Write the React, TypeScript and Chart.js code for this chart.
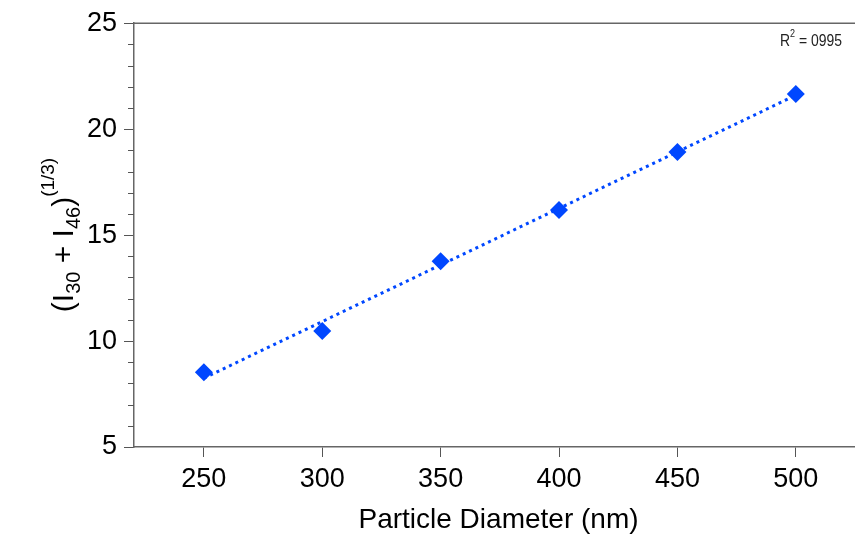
import React, { useEffect, useRef } from 'react';
import { Chart, registerables } from 'chart.js';
Chart.register(...registerables);

const diameters = [250, 300, 350, 400, 450, 500];
const intensityRoot = [8.53, 10.48, 13.77, 16.18, 18.92, 21.66];
const trendX = [250, 500];
const trendY = [8.25, 21.6];
const xTickValues = [250, 300, 350, 400, 450, 500];
const yTickValues = [5, 10, 15, 20, 25];
const yMinorStep = 1;
const rSquaredText = '0995';
const xTitle = 'Particle Diameter (nm)';

const FONT = '"Liberation Sans", Arial, sans-serif';
const BLUE = '#0047ff';
const AXIS = '#666666';
const VIEW_W = 855;

const overlay = {
  id: 'overlay',
  afterDraw(chart: any) {
    const ctx = chart.ctx;
    const { left, right, top } = chart.chartArea;
    const y = chart.scales.y;
    ctx.save();
    // top border
    ctx.strokeStyle = AXIS;
    ctx.lineWidth = 1.5;
    ctx.beginPath();
    ctx.moveTo(left, top);
    ctx.lineTo(right, top);
    ctx.stroke();
    // minor ticks
    ctx.lineWidth = 1;
    ctx.strokeStyle = '#555';
    for (let v = y.min; v <= y.max; v += yMinorStep) {
      if (yTickValues.includes(v)) continue;
      const py = Math.round(y.getPixelForValue(v)) + 0.5;
      ctx.beginPath();
      ctx.moveTo(left - 6, py);
      ctx.lineTo(left, py);
      ctx.stroke();
    }
    // x title
    ctx.fillStyle = '#000';
    ctx.font = `28px ${FONT}`;
    ctx.textAlign = 'center';
    ctx.textBaseline = 'alphabetic';
    ctx.fillText(xTitle, (left + VIEW_W) / 2 + 4, 528);

    // y title rich text
    const parts: [string, number, number][] = [
      ['(I', 30, 0],
      ['30', 20, 7],
      [' + I', 30, 0],
      ['46', 20, 7],
      [')', 30, 0],
      ['(1/3)', 19, -19],
    ];
    ctx.textAlign = 'left';
    let total = 0;
    const widths: number[] = [];
    for (const [t, s] of parts) {
      ctx.font = `${s}px ${FONT}`;
      const w = ctx.measureText(t).width;
      widths.push(w);
      total += w;
    }
    ctx.translate(73, 235);
    ctx.rotate(-Math.PI / 2);
    let x = -total / 2;
    parts.forEach(([t, s, dy], i) => {
      ctx.font = `${s}px ${FONT}`;
      ctx.fillText(t, x, dy);
      x += widths[i];
    });
    ctx.setTransform(1, 0, 0, 1, 0, 0);

    // R^2 label (narrow)
    ctx.fillStyle = '#222';
    ctx.translate(780, 46);
    ctx.scale(0.82, 1);
    ctx.font = `17px ${FONT}`;
    ctx.fillText('R', 0, 0);
    const rw = ctx.measureText('R').width;
    ctx.font = `11px ${FONT}`;
    ctx.fillText('2', rw, -9);
    const sw = ctx.measureText('2').width;
    ctx.font = `17px ${FONT}`;
    ctx.fillText(' = ' + rSquaredText, rw + sw, 0);
    ctx.setTransform(1, 0, 0, 1, 0, 0);
    ctx.restore();
  },
};

export default function App() {
  const ref = useRef<HTMLCanvasElement>(null);
  useEffect(() => {
    document.body.style.margin = '0';
    const chart = new Chart(ref.current!, {
      type: 'scatter',
      data: {
        datasets: [
          {
            type: 'line',
            data: trendX.map((x, i) => ({ x, y: trendY[i] })),
            borderColor: BLUE,
            borderWidth: 3,
            borderDash: [3, 4],
            pointRadius: 0,
            fill: false,
          } as any,
          {
            data: diameters.map((x, i) => ({ x, y: intensityRoot[i] })),
            backgroundColor: BLUE,
            borderColor: BLUE,
            pointStyle: 'rectRot',
            pointRadius: 9,
            pointBorderWidth: 0,
          },
        ],
      },
      options: {
        animation: false,
        responsive: false,
        layout: { padding: { top: 23, right: 0, left: 0, bottom: 0 } },
        plugins: { legend: { display: false }, tooltip: { enabled: false } },
        scales: {
          x: {
            type: 'linear',
            min: 220.5,
            max: 525,
            afterBuildTicks: (s: any) => {
              s.ticks = xTickValues.map((v) => ({ value: v }));
            },
            afterFit: (s: any) => {
              s.height = 88;
            },
            grid: { drawOnChartArea: false, drawTicks: true, tickLength: 10, color: '#555', lineWidth: 1 },
            border: { display: true, color: AXIS, width: 1.5 },
            ticks: { color: '#000', font: { family: FONT, size: 27 }, padding: 6, maxRotation: 0 },
          },
          y: {
            type: 'linear',
            min: 5,
            max: 25,
            afterBuildTicks: (s: any) => {
              s.ticks = yTickValues.map((v) => ({ value: v }));
            },
            afterFit: (s: any) => {
              s.width = 134;
            },
            grid: { drawOnChartArea: false, drawTicks: true, tickLength: 10, color: '#555', lineWidth: 1 },
            border: { display: true, color: AXIS, width: 1.5 },
            ticks: { color: '#000', font: { family: FONT, size: 27 }, padding: 7 },
          },
        },
      },
      plugins: [overlay],
    });
    return () => chart.destroy();
  }, []);
  return (
    <div style={{ position: 'absolute', left: 0, top: 0, width: VIEW_W, height: 535, overflow: 'hidden' }}>
      <canvas ref={ref} width={VIEW_W + 9} height={535} style={{ display: 'block' }} />
    </div>
  );
}
